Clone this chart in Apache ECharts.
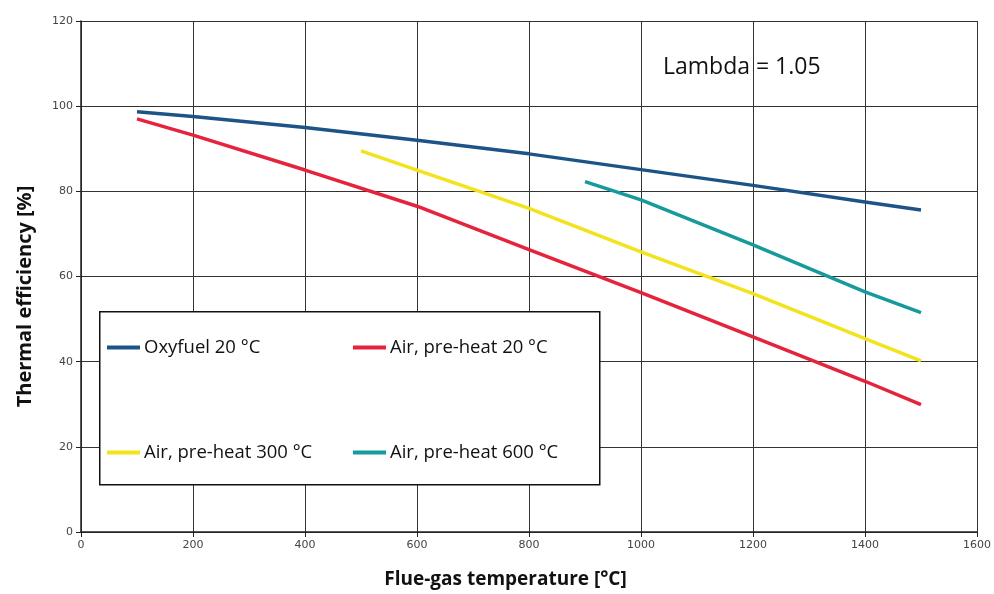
<!DOCTYPE html>
<html><head><meta charset="utf-8">
<script src="https://cdn.jsdelivr.net/npm/echarts@6/dist/echarts.min.js"></script>
<style>html,body{margin:0;padding:0;background:#fff}#c{width:994px;height:594px}</style>
</head><body><div id="c"></div>
<script>
var seriesNames = ['Oxyfuel 20 °C', 'Air, pre-heat 20 °C', 'Air, pre-heat 300 °C', 'Air, pre-heat 600 °C'];
var oxyX = [100, 200, 400, 600, 800, 1000, 1200, 1400, 1500];
var oxyY = [98.7, 97.6, 95.0, 92.0, 88.8, 85.1, 81.4, 77.5, 75.6];
var air20X = [100, 200, 400, 600, 800, 1000, 1200, 1400, 1500];
var air20Y = [97.0, 93.2, 85.0, 76.5, 66.3, 56.2, 45.8, 35.4, 29.9];
var air300X = [500, 600, 800, 1000, 1200, 1400, 1500];
var air300Y = [89.5, 85.0, 76.0, 65.8, 56.0, 45.4, 40.2];
var air600X = [900, 1000, 1200, 1400, 1500];
var air600Y = [82.3, 78.0, 67.4, 56.4, 51.5];
var colors = ['#1d5487', '#e5233c', '#f2e31c', '#179a9b'];

function pairs(xs, ys){ return xs.map(function(x,i){ return [x, ys[i]]; }); }
var allData = [pairs(oxyX, oxyY), pairs(air20X, air20Y), pairs(air300X, air300Y), pairs(air600X, air600Y)];

var font = '"Open Sans", Lato, sans-serif';
var tickFont = '"DejaVu Sans", sans-serif';
var legendPos = [{left: 107, top: 338}, {left: 353, top: 338}, {left: 107, top: 443}, {left: 353, top: 443}];

var chart = echarts.init(document.getElementById('c'), null, {renderer: 'canvas'});
chart.setOption({
  animation: false,
  backgroundColor: '#fff',
  grid: {left: 81, right: 16, top: 21, bottom: 61, show: false},
  xAxis: {
    type: 'value', min: 0, max: 1600, interval: 200,
    name: 'Flue-gas temperature [°C]', nameLocation: 'middle', nameGap: 38,
    nameTextStyle: {fontFamily: font, fontSize: 19, fontWeight: 'bold', color: '#111', padding: [0, 47, 0, 0]},
    axisLine: {show: true, lineStyle: {color: '#222', width: 1.5}},
    axisTick: {show: true, length: 5, lineStyle: {color: '#222'}},
    axisLabel: {fontFamily: tickFont, fontSize: 11, color: '#444', margin: 8,
      formatter: function(v){ return String(v); }},
    splitLine: {show: true, lineStyle: {color: '#333', width: 1}}
  },
  yAxis: {
    type: 'value', min: 0, max: 120, interval: 20,
    name: 'Thermal efficiency [%]', nameLocation: 'middle', nameGap: 46,
    nameTextStyle: {fontFamily: font, fontSize: 20, fontWeight: 'bold', color: '#111', padding: [0, 40, 0, 0]},
    axisLine: {show: true, lineStyle: {color: '#222', width: 1.5}},
    axisTick: {show: true, length: 5, lineStyle: {color: '#222'}},
    axisLabel: {fontFamily: tickFont, fontSize: 11, color: '#444', margin: 8},
    splitLine: {show: true, lineStyle: {color: '#333', width: 1}}
  },
  legend: seriesNames.map(function(n, i){
    return {
      data: [n], left: legendPos[i].left, top: legendPos[i].top, z: 20, padding: 0,
      icon: 'rect', itemWidth: 33, itemHeight: 4, itemGap: 4,
      textStyle: {fontFamily: font, fontSize: 18.5, color: '#111', padding: [0,0,0,-1]},
      selectedMode: false
    };
  }),
  graphic: [
    {type: 'rect', left: 99, top: 311, z: 3, shape: {width: 500, height: 173},
     style: {fill: '#fff', stroke: '#111', lineWidth: 1.5}},
    {type: 'text', left: 663, top: 56, z: 10,
     style: {text: 'Lambda = 1.05', fontFamily: font, fontSize: 23, fill: '#111'}}
  ],
  series: allData.map(function(d, i){
    return {
      name: seriesNames[i], type: 'line', data: d, symbol: 'none', smooth: false,
      lineStyle: {color: colors[i], width: 3.5}, itemStyle: {color: colors[i]}, z: 2
    };
  })
});
</script></body></html>
